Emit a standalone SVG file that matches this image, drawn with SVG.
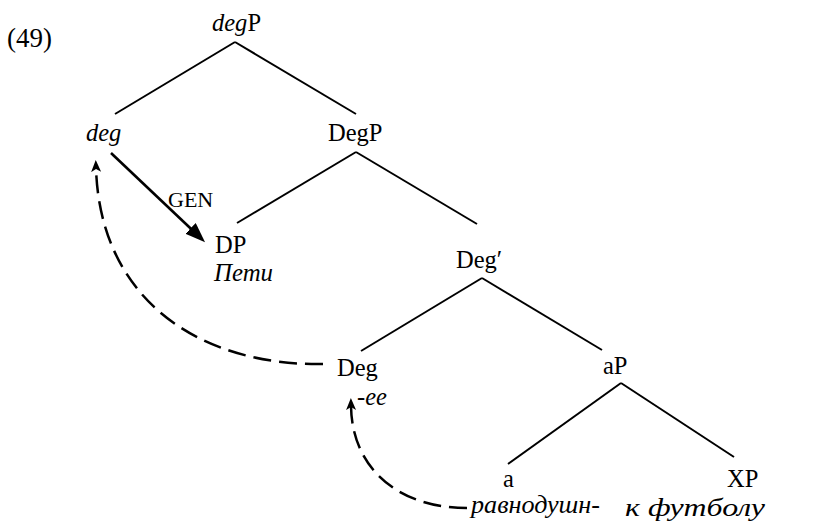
<svg xmlns="http://www.w3.org/2000/svg" width="819" height="525" viewBox="0 0 819 525">
  <style>
    text { font-family: "Liberation Serif", "Times New Roman", serif; font-size: 24.5px; fill: #000; }
    .it { font-style: italic; }
    .small { font-size: 22px; }
    .num { font-size: 27px; }
    .branch { stroke: #000; stroke-width: 2; fill: none; }
    .move { stroke: #000; stroke-width: 2.5; fill: none; stroke-dasharray: 18 8; }
    .agree { stroke: #000; stroke-width: 2.6; fill: none; }
  </style>
  <defs>
    <marker id="head-solid" markerUnits="userSpaceOnUse" markerWidth="22" markerHeight="16" refX="2" refY="7.5" orient="auto">
      <path d="M0,0 L20,7.5 L0,15 z" fill="#000"/>
    </marker>
    <marker id="head-dash" markerUnits="userSpaceOnUse" markerWidth="14" markerHeight="12" refX="4" refY="5" orient="auto">
      <path d="M0,0 L12,5 L0,10 L3,5 z" fill="#000"/>
    </marker>
  </defs>

  <rect width="819" height="525" fill="#fff"/>

  <text class="num" x="7" y="47">(49)</text>

  <g id="connectors">
    <line class="branch" x1="235" y1="42" x2="115" y2="114"/>
    <line class="branch" x1="235" y1="42" x2="356" y2="114"/>
    <line class="branch" x1="356" y1="152" x2="237" y2="223"/>
    <line class="branch" x1="356" y1="152" x2="477" y2="224"/>
    <line class="branch" x1="482" y1="278" x2="361" y2="351"/>
    <line class="branch" x1="482" y1="278" x2="602" y2="350"/>
    <line class="branch" x1="621" y1="383" x2="508" y2="464"/>
    <line class="branch" x1="621" y1="383" x2="734" y2="457"/>
    <!-- genitive assignment -->
    <line class="agree" x1="111" y1="153" x2="192" y2="229.8" marker-end="url(#head-solid)"/>
    <text class="small" x="168" y="207">GEN</text>
    <!-- head movement -->
    <path class="move" d="M323,364 C200,366 100,300 96,168" marker-end="url(#head-dash)"/>
    <path class="move" d="M467,508 C400,508 352,470 351,406" marker-end="url(#head-dash)"/>
  </g>

  <g id="node-degP"><text x="212" y="31"><tspan class="it">deg</tspan>P</text></g>
  <g id="node-deg"><text class="it" x="86" y="141">deg</text></g>
  <g id="node-DegP"><text x="328" y="141">DegP</text></g>
  <g id="node-DP">
    <text x="215" y="253">DP</text>
    <text class="it" x="214" y="281" textLength="59" lengthAdjust="spacingAndGlyphs">Пети</text>
  </g>
  <g id="node-DegBar"><text x="456" y="268">Deg′</text></g>
  <g id="node-Deg">
    <text x="337" y="376">Deg</text>
    <text class="it" x="357" y="405">-ee</text>
  </g>
  <g id="node-aP"><text x="603" y="374">aP</text></g>
  <g id="node-a">
    <text x="503" y="487">a</text>
    <text class="it" x="471" y="513" textLength="129" lengthAdjust="spacingAndGlyphs">равнодушн-</text>
  </g>
  <g id="node-XP">
    <text x="727" y="487">XP</text>
    <text class="it" x="625" y="516" textLength="140" lengthAdjust="spacingAndGlyphs">к футболу</text>
  </g>
</svg>
